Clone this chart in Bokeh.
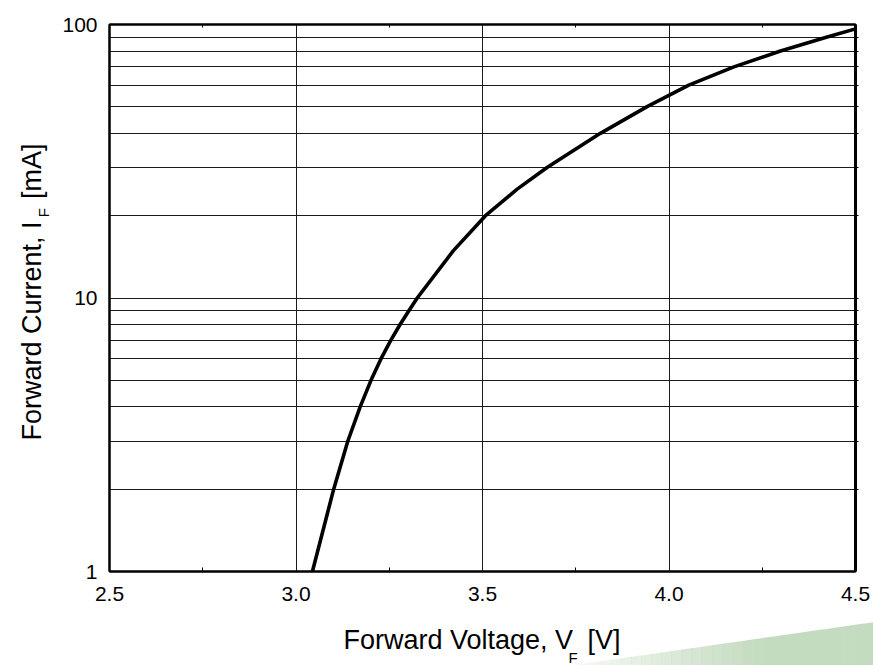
import numpy as np
from bokeh.plotting import figure
from bokeh.layouts import row, column
from bokeh.models import FixedTicker, NumeralTickFormatter, LinearAxis, Range1d
from bokeh.core.properties import value
from bokeh.embed import file_html
from bokeh.resources import INLINE

# Forward voltage [V] vs forward current [mA] (typical LED characteristic)
forward_voltage = [3.044, 3.101, 3.139, 3.172, 3.201, 3.228, 3.254, 3.279, 3.303,
                   3.325, 3.422, 3.508, 3.593, 3.673, 3.816, 3.940, 4.053, 4.174,
                   4.299, 4.424, 4.500]
forward_current = [1.0, 2.0, 3.0, 4.0, 5.0, 6.0, 7.0, 8.0, 9.0,
                   10.0, 14.9, 20.0, 25.0, 30.0, 40.0, 50.0, 60.0, 70.0,
                   80.0, 90.0, 96.4]

x_major = [2.5, 3.0, 3.5, 4.0, 4.5]
x_minor = [2.75, 3.25, 3.75, 4.25]
y_major = [1, 10, 100]
y_minor = [2, 3, 4, 5, 6, 7, 8, 9, 20, 30, 40, 50, 60, 70, 80, 90]

x_title, x_sub, x_unit = "Forward Voltage, V", "F", "[V]"
y_title, y_sub, y_unit = "Forward Current, I", "F", "[mA]"

FONT = "Liberation Sans"
TOTAL_W, LEFT_W, MAIN_H, BOTTOM_H = 873, 56, 616, 49
MAIN_W = TOTAL_W - LEFT_W
FRAME_LEFT = 109                      # frame's left edge on the page
BORDER_TOP, BORDER_BOTTOM = 24, 45


def blank_panel(w, h, y_range=None, top=0, bottom=0):
    """A figure without axes whose data units are canvas pixels (y up)."""
    f = figure(width=w, height=h, x_range=Range1d(0, w),
               y_range=y_range if y_range is not None else Range1d(0, h),
               x_axis_location=None, y_axis_location=None,
               min_border_left=0, min_border_right=0,
               min_border_top=top, min_border_bottom=bottom,
               output_backend="svg", toolbar_location=None,
               background_fill_color="white", border_fill_color="white")
    f.outline_line_color = None
    f.grid.visible = False
    return f


def put_text(f, x, y, text, size, align="left", angle=0.0):
    f.text(x=[x], y=[y], text=[text], angle=angle, text_color="black",
           text_font=value(FONT), text_font_size=value(size),
           text_align=value(align), text_baseline=value("alphabetic"))


# ---- main chart -------------------------------------------------------------
p = figure(width=MAIN_W, height=MAIN_H,
           min_border_left=FRAME_LEFT - LEFT_W, min_border_right=18,
           min_border_top=BORDER_TOP, min_border_bottom=BORDER_BOTTOM,
           x_range=Range1d(2.5, 4.5), y_range=Range1d(1, 100), y_axis_type="log",
           output_backend="svg", toolbar_location=None,
           background_fill_color="white", border_fill_color="white")

p.outline_line_color = "black"
p.outline_line_width = 2

xa = p.xaxis[0]
xa.ticker = FixedTicker(ticks=x_major, minor_ticks=x_minor)
xa.formatter = NumeralTickFormatter(format="0.0")
xa.major_tick_out = 0
xa.major_tick_in = 0
xa.minor_tick_out = 0
xa.minor_tick_in = 4
xa.minor_tick_line_color = "black"
xa.axis_line_color = "black"
xa.axis_line_width = 2
xa.major_label_standoff = 15
xa.major_label_text_font = FONT
xa.major_label_text_font_size = "21px"
xa.major_label_text_color = "black"

ya = p.yaxis[0]
ya.ticker = FixedTicker(ticks=y_major, minor_ticks=y_minor)
ya.formatter = NumeralTickFormatter(format="0")
ya.major_tick_out = 0
ya.major_tick_in = 0
ya.minor_tick_out = 0
ya.minor_tick_in = 0
ya.axis_line_color = "black"
ya.axis_line_width = 2
ya.major_label_standoff = 12
ya.major_label_text_font = FONT
ya.major_label_text_font_size = "21px"
ya.major_label_text_color = "black"

# top edge: small inward minor ticks only
top = LinearAxis(ticker=FixedTicker(ticks=[], minor_ticks=x_minor),
                 major_tick_in=0, major_tick_out=0, minor_tick_in=3, minor_tick_out=0,
                 minor_tick_line_color="black", axis_line_color="black", axis_line_width=2)
p.add_layout(top, "above")

# right edge: grid lines poke slightly out of the frame
right = LinearAxis(ticker=FixedTicker(ticks=[], minor_ticks=y_minor + [10]),
                   major_tick_in=0, major_tick_out=0, minor_tick_in=0, minor_tick_out=3,
                   minor_tick_line_color="black", axis_line_color="black", axis_line_width=3)
p.add_layout(right, "right")

p.xgrid.grid_line_color = "#1a1a1a"
p.xgrid.grid_line_width = 1
p.ygrid.grid_line_color = "#1a1a1a"
p.ygrid.grid_line_width = 1
p.ygrid.minor_grid_line_color = "#1a1a1a"
p.ygrid.minor_grid_line_width = 1

p.line(forward_voltage, forward_current, line_color="black", line_width=3.6,
       line_join="round", line_cap="round")

# ---- y-axis title strip (left) ---------------------------------------------
# same top/bottom borders as the chart, so data y = MAIN_H - (pixel row)
left = blank_panel(LEFT_W, MAIN_H,
                   y_range=Range1d(BORDER_BOTTOM, MAIN_H - BORDER_TOP),
                   top=BORDER_TOP, bottom=BORDER_BOTTOM)
put_text(left, 31.7, 176, y_title, "27px", angle=np.pi / 2)
put_text(left, 42.7, 399.3, y_sub, "15px", angle=np.pi / 2)
put_text(left, 31.7, 473, y_unit, "27px", align="right", angle=np.pi / 2)

# ---- x-axis title strip (bottom) with the green corner accent ---------------
bottom = blank_panel(TOTAL_W, BOTTOM_H)

# wedge rising toward the right edge, fading out toward its tip
x0, x1, h_end = 570.0, float(TOTAL_W), 43.3
n = 30
edges = np.linspace(x0, x1, n + 1)
for i in range(n):
    a, b = edges[i], edges[i + 1] + 0.5
    ha = (a - x0) / (x1 - x0) * h_end
    hb = min(1.0, (b - x0) / (x1 - x0)) * h_end
    alpha = min(1.0, 0.12 + 1.4 * (i + 0.5) / n)
    bottom.patch(x=[a, b, b, a], y=[-1, -1, hb, ha], fill_color="#c3dbbf",
                 fill_alpha=alpha, line_alpha=0)

put_text(bottom, 343, 26, x_title, "27px")
put_text(bottom, 568, 8, x_sub, "15px")
put_text(bottom, 620, 26, x_unit, "27px", align="right")

layout = column(row(left, p, spacing=0), bottom, spacing=0)

open("out.html", "w").write(file_html(layout, INLINE))
